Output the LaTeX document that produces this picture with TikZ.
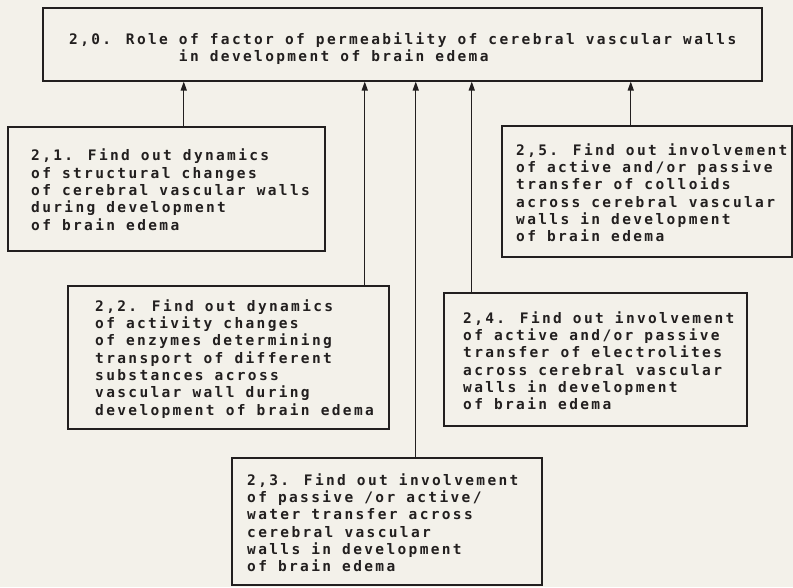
\documentclass[tikz,border=0pt]{standalone}
\usepackage{fontspec}
\newfontfamily\tw[LetterSpace=16.2]{DejaVu Sans Mono}
\usetikzlibrary{arrows.meta}
\definecolor{paper}{HTML}{F3F1EA}
\definecolor{ink}{HTML}{221F1F}
\begin{document}
\begin{tikzpicture}[x=1pt,y=-1pt,
  box/.style={draw=ink, line width=1.5pt, rectangle, inner sep=0pt, anchor=north west},
  txt/.style={font=\tw\bfseries\fontsize{14.5}{17.3}\selectfont, text=ink, align=left, inner sep=0pt, anchor=west},
  arr/.style={draw=ink, line width=1.3pt, -{Triangle[length=9pt,width=6pt]}}]
\fill[paper] (0,0) rectangle (793,587);
\useasboundingbox (0,0) rectangle (793,587);
% boxes
\node[box, minimum width=719pt, minimum height=73pt] (b0) at (42,7) {};
\node[box, minimum width=317pt, minimum height=124pt] (b1) at (7,126) {};
\node[box, minimum width=321pt, minimum height=143pt] (b2) at (67,285) {};
\node[box, minimum width=310pt, minimum height=127pt] (b3) at (231,457) {};
\node[box, minimum width=303pt, minimum height=133pt] (b4) at (443,292) {};
\node[box, minimum width=290pt, minimum height=131pt] (b5) at (501,125) {};
% texts
\node[txt] (t0) at ([xshift=27pt,yshift=-4.5pt]b0.west) {2,0. Role of factor of permeability of cerebral vascular walls\\\hphantom{2,0. Role }in development of brain edema};
\node[txt] (t1) at ([xshift=24pt,yshift=-1pt]b1.west) {2,1. Find out dynamics\\of structural changes\\of cerebral vascular walls\\during development\\of brain edema};
\node[txt] (t2) at ([xshift=28pt,yshift=-1.5pt]b2.west) {2,2. Find out dynamics\\of activity changes\\of enzymes determining\\transport of different\\substances across\\vascular wall during\\development of brain edema};
\node[txt] (t3) at ([xshift=16pt,yshift=-1.5pt]b3.west) {2,3. Find out involvement\\of passive /or active/\\water transfer across\\cerebral vascular\\walls in development\\of brain edema};
\node[txt] (t4) at ([xshift=20pt,yshift=-1.5pt]b4.west) {2,4. Find out involvement\\of active and/or passive\\transfer of electrolites\\across cerebral vascular\\walls in development\\of brain edema};
\node[txt] (t5) at ([xshift=15pt,yshift=-1.5pt]b5.west) {2,5. Find out involvement\\of active and/or passive\\transfer of colloids\\across cerebral vascular\\walls in development\\of brain edema};
% arrows
\draw[arr] ([xshift=17.5pt]b1.north) -- ([xshift=17.5pt]b1.north |- b0.south);
\draw[arr] ([xshift=136.5pt]b2.north) -- ([xshift=136.5pt]b2.north |- b0.south);
\draw[arr] ([xshift=29pt]b3.north) -- ([xshift=29pt]b3.north |- b0.south);
\draw[arr] ([xshift=-123.5pt]b4.north) -- ([xshift=-123.5pt]b4.north |- b0.south);
\draw[arr] ([xshift=-16pt]b5.north) -- ([xshift=-16pt]b5.north |- b0.south);
\end{tikzpicture}
\end{document}
